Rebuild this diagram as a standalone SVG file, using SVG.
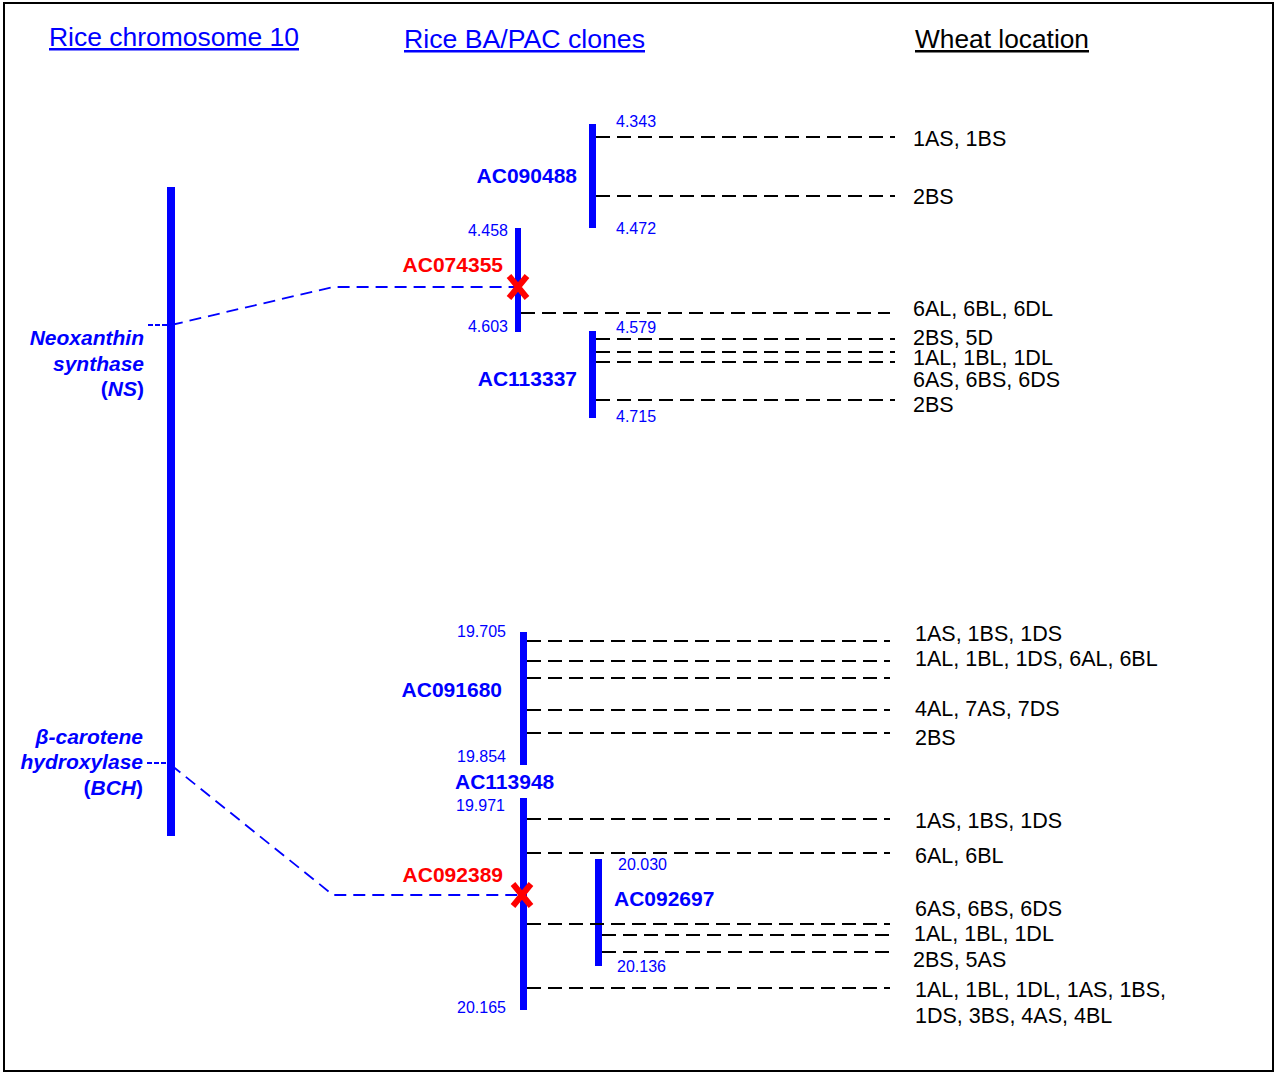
<svg xmlns="http://www.w3.org/2000/svg" width="1279" height="1072" viewBox="0 0 1279 1072">
<style>
.t{font-family:"Liberation Sans",Arial,sans-serif}
.title{font-size:25px;text-decoration:underline}
.lbl{font-size:21px;font-weight:bold;fill:#0000ff}
.red{fill:#ff0000}
.num{font-size:16px;fill:#0000ff}
.wh{font-size:21.5px;fill:#000}
.gene{font-size:21px;font-weight:bold;font-style:italic;fill:#0000ff}
.bar{fill:#0000ff}
.bl{stroke:#000;stroke-width:2;stroke-dasharray:14 7;fill:none}
.bd{stroke:#0000ff;stroke-width:1.8;stroke-dasharray:12 7;fill:none}
.tk{stroke:#0000ff;stroke-width:2;stroke-dasharray:5 2;fill:none}
.x{stroke:#ff0000;stroke-width:6;fill:none}
</style>
<rect x="4" y="3" width="1269" height="1068" fill="#fff" stroke="#000" stroke-width="2"/>

<g id="titles">
<text class="t title" x="49" y="46" fill="#0000ff" textLength="250" lengthAdjust="spacingAndGlyphs">Rice chromosome 10</text>
<text class="t title" x="404" y="48" fill="#0000ff" textLength="241" lengthAdjust="spacingAndGlyphs">Rice BA/PAC clones</text>
<text class="t title" x="915" y="48" fill="#000" textLength="174" lengthAdjust="spacingAndGlyphs">Wheat location</text>
</g>

<g id="connectors">
<path class="tk" d="M148 325 H167"/>
<path class="tk" d="M147 763 H167"/>
<path class="bd" d="M171 325 L333 287 H516"/>
<path class="bd" d="M171 765 L333 895 H520"/>
<path class="bl" d="M596 137 H895"/>
<path class="bl" d="M596 196 H895"/>
<path class="bl" d="M521 313 H890"/>
<path class="bl" d="M596 339 H895"/>
<path class="bl" d="M596 352 H895"/>
<path class="bl" d="M596 362 H895"/>
<path class="bl" d="M596 400 H895"/>
<path class="bl" d="M527 641 H890"/>
<path class="bl" d="M527 661 H890"/>
<path class="bl" d="M527 678 H890"/>
<path class="bl" d="M527 710 H890"/>
<path class="bl" d="M527 733 H890"/>
<path class="bl" d="M527 819 H890"/>
<path class="bl" d="M527 853 H890"/>
<path class="bl" d="M527 988 H890"/>
<path class="bl" d="M602 935 H895"/>
<path class="bl" d="M602 952 H895"/>
</g>

<g id="chr10">
<rect class="bar" x="167" y="187" width="8" height="649"/>
</g>

<g id="gene-NS">
<text class="t gene" text-anchor="end" x="144" y="345">Neoxanthin</text>
<text class="t gene" text-anchor="end" x="144" y="371">synthase</text>
<text class="t gene" text-anchor="end" x="144" y="396"><tspan font-style="normal">(</tspan>NS<tspan font-style="normal">)</tspan></text>
</g>

<g id="gene-BCH">
<text class="t gene" text-anchor="end" x="143" y="744">β-carotene</text>
<text class="t gene" text-anchor="end" x="143" y="769">hydroxylase</text>
<text class="t gene" text-anchor="end" x="143" y="795"><tspan font-style="normal">(</tspan>BCH<tspan font-style="normal">)</tspan></text>
</g>

<g id="AC090488">
<rect class="bar" x="589" y="124" width="7" height="104"/>
<text class="t num" x="616" y="127">4.343</text>
<text class="t num" x="616" y="234">4.472</text>
<text class="t lbl" text-anchor="end" x="577" y="183">AC090488</text>
</g>

<g id="AC074355">
<rect class="bar" x="515" y="228" width="6" height="104"/>
<text class="t num" text-anchor="end" x="508" y="236">4.458</text>
<text class="t num" text-anchor="end" x="508" y="332">4.603</text>
<text class="t lbl red" text-anchor="end" x="503" y="272">AC074355</text>
<path class="x" d="M509 276 L527 298 M527 276 L509 298"/>
</g>

<g id="AC113337">
<rect class="bar" x="589" y="331" width="7" height="87"/>
<text class="t num" x="616" y="333">4.579</text>
<text class="t num" x="616" y="422">4.715</text>
<text class="t lbl" text-anchor="end" x="577" y="386">AC113337</text>
</g>

<g id="AC091680">
<rect class="bar" x="520" y="632" width="7" height="133"/>
<text class="t num" text-anchor="end" x="506" y="637">19.705</text>
<text class="t num" text-anchor="end" x="506" y="762">19.854</text>
<text class="t lbl" text-anchor="end" x="502" y="697">AC091680</text>
</g>

<g id="AC113948">
<text class="t lbl" x="455" y="789">AC113948</text>
</g>

<g id="AC092389">
<rect class="bar" x="520" y="798" width="7" height="212"/>
<text class="t num" text-anchor="end" x="505" y="811">19.971</text>
<text class="t num" text-anchor="end" x="506" y="1013">20.165</text>
<text class="t lbl red" text-anchor="end" x="503" y="882">AC092389</text>
<path class="x" d="M513 884 L531 906 M531 884 L513 906"/>
</g>

<g id="AC092697">
<rect class="bar" x="595" y="859" width="7" height="107"/>
<text class="t num" x="618" y="870">20.030</text>
<text class="t num" x="617" y="972">20.136</text>
<text class="t lbl" x="614" y="906">AC092697</text>
</g>

<g id="overlap">
<path class="bl" d="M527 924 H890"/>
</g>

<g id="wheat">
<text class="t wh" x="913" y="146">1AS, 1BS</text>
<text class="t wh" x="913" y="204">2BS</text>
<text class="t wh" x="913" y="316">6AL, 6BL, 6DL</text>
<text class="t wh" x="913" y="345">2BS, 5D</text>
<text class="t wh" x="913" y="365">1AL, 1BL, 1DL</text>
<text class="t wh" x="913" y="387">6AS, 6BS, 6DS</text>
<text class="t wh" x="913" y="412">2BS</text>
<text class="t wh" x="915" y="641">1AS, 1BS, 1DS</text>
<text class="t wh" x="915" y="666">1AL, 1BL, 1DS, 6AL, 6BL</text>
<text class="t wh" x="915" y="716">4AL, 7AS, 7DS</text>
<text class="t wh" x="915" y="745">2BS</text>
<text class="t wh" x="915" y="828">1AS, 1BS, 1DS</text>
<text class="t wh" x="915" y="863">6AL, 6BL</text>
<text class="t wh" x="915" y="916">6AS, 6BS, 6DS</text>
<text class="t wh" x="914" y="941">1AL, 1BL, 1DL</text>
<text class="t wh" x="913" y="967">2BS, 5AS</text>
<text class="t wh" x="915" y="997">1AL, 1BL, 1DL, 1AS, 1BS,</text>
<text class="t wh" x="915" y="1023">1DS, 3BS, 4AS, 4BL</text>
</g>
</svg>
